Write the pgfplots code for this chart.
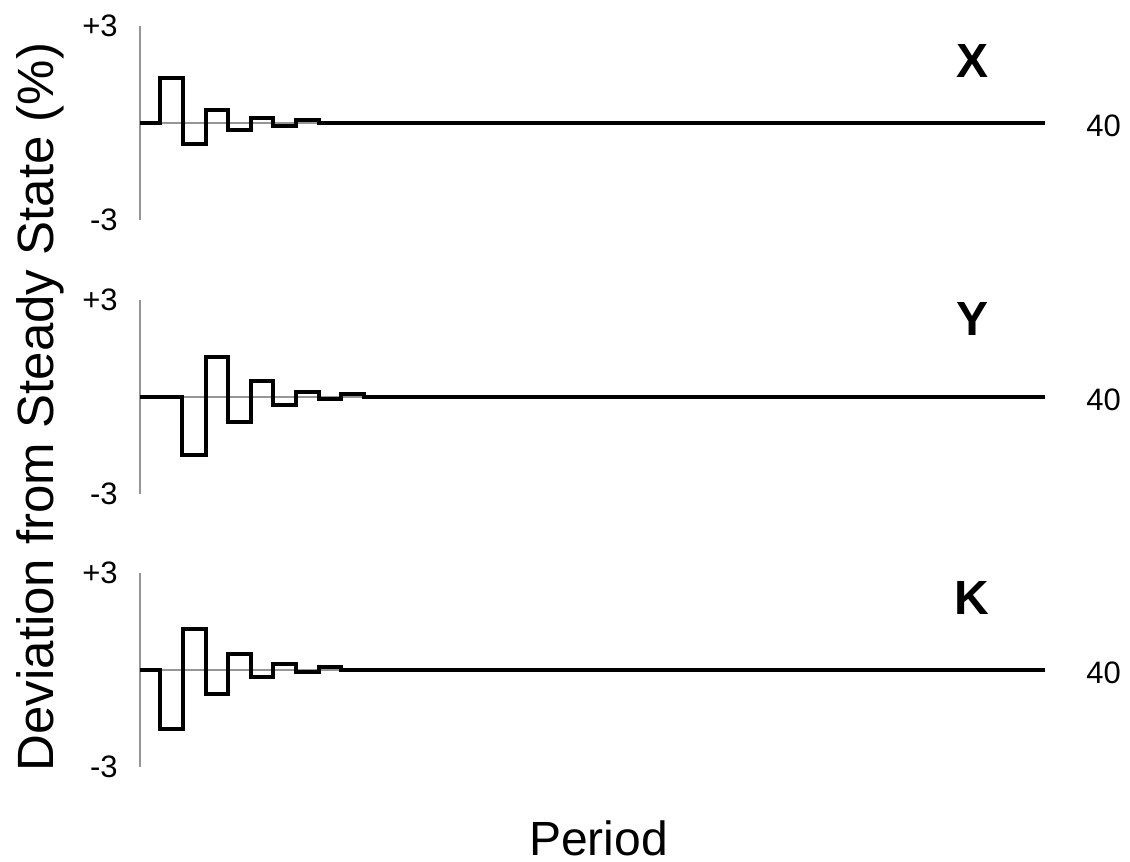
\documentclass[border=0pt]{standalone}
\usepackage{fontspec}
\setmainfont{Liberation Sans}
\usepackage{pgfplots}
\pgfplotsset{compat=1.18}
\definecolor{axgray}{RGB}{150,150,150}
\pgfplotsset{
  panel/.style={
    scale only axis, width=452.5bp, height=97bp, anchor=south west,
    xmin=0, xmax=40, ymin=-3, ymax=3,
    axis x line=none, axis y line*=left,
    y axis line style={draw=axgray, line width=0.6bp},
    ytick={-3,3}, yticklabels={-3,+3}, xtick=\empty,
    major tick length=0pt,
    yticklabel style={font=\fontsize{15.5bp}{18bp}\selectfont, inner sep=0pt, xshift=-11bp},
    clip=false,
  },
  stepline/.style={const plot, black, line width=2bp, line join=miter, mark=none},
  zeroline/.style={draw=axgray, line width=0.6bp, mark=none},
}
\begin{document}
\begin{tikzpicture}
\useasboundingbox (0,0) rectangle (565bp,431bp);
% Panel X
\begin{axis}[panel, at={(70bp,321bp)}]
\addplot[zeroline] coordinates {(0,0) (40,0)};
\addplot[stepline] coordinates {(0,0) (0.9,1.40) (1.9,-0.66) (2.9,0.41) (3.9,-0.21) (4.9,0.165) (5.9,-0.10) (6.9,0.10) (7.9,0) (40,0)};
\node[anchor=west, inner sep=0pt, xshift=20.5bp, yshift=-1.5bp, font=\fontsize{15.5bp}{18bp}\selectfont] at (axis cs:40,0) {40};
\end{axis}
% Panel Y
\begin{axis}[panel, at={(70bp,184bp)}]
\addplot[zeroline] coordinates {(0,0) (40,0)};
\addplot[stepline] coordinates {(0,0) (1.85,-1.79) (2.9,1.24) (3.9,-0.76) (4.9,0.49) (5.9,-0.25) (6.9,0.155) (7.9,-0.07) (8.9,0.08) (9.9,0) (40,0)};
\node[anchor=west, inner sep=0pt, xshift=20.5bp, yshift=-1.5bp, font=\fontsize{15.5bp}{18bp}\selectfont] at (axis cs:40,0) {40};
\end{axis}
% Panel K
\begin{axis}[panel, at={(70bp,47.5bp)}]
\addplot[zeroline] coordinates {(0,0) (40,0)};
\addplot[stepline] coordinates {(0,0) (0.88,-1.82) (1.9,1.27) (2.9,-0.74) (3.9,0.48) (4.9,-0.23) (5.9,0.18) (6.9,-0.05) (7.9,0.10) (8.9,0) (40,0)};
\node[anchor=west, inner sep=0pt, xshift=20.5bp, yshift=-1.5bp, font=\fontsize{15.5bp}{18bp}\selectfont] at (axis cs:40,0) {40};
\end{axis}
% panel letters
\node[inner sep=0pt, font=\fontsize{24bp}{28bp}\selectfont\bfseries] at (486bp,400.5bp) {X};
\node[inner sep=0pt, font=\fontsize{24bp}{28bp}\selectfont\bfseries] at (486.25bp,271.5bp) {Y};
\node[inner sep=0pt, font=\fontsize{24bp}{28bp}\selectfont\bfseries] at (486bp,132.25bp) {K};
% axis titles
\node[anchor=base, inner sep=0pt, font=\fontsize{24bp}{28bp}\selectfont] at (299.25bp,3.5bp) {Period};
\node[rotate=90, inner sep=0pt, font=\fontsize{25.5bp}{30bp}\selectfont] at (20bp,227.5bp) {Deviation from Steady State (\%)};
\end{tikzpicture}
\end{document}
